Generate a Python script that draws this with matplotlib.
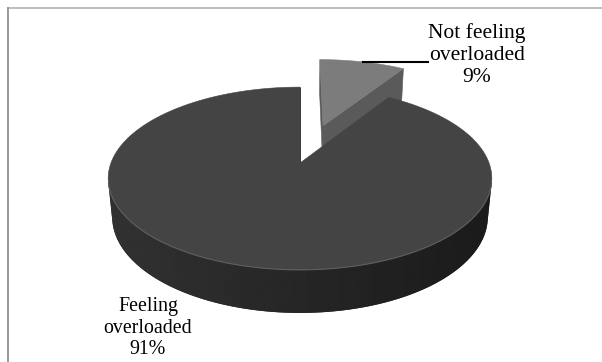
import numpy as np
import matplotlib
matplotlib.use("Agg")
import matplotlib.pyplot as plt
from matplotlib.patches import Polygon

# ---- data ----
categories = ["Not feeling\noverloaded", "Feeling\noverloaded"]
values = [9, 91]

# ---- styles ----
top_colors = ["#7c7c7c", "#444444"]
cut_colors = ["#5a5a5a", "#3a3a3a"]
explode = [0.47, 0.0]

# ---- 3D view parameters ----
ELEV = np.radians(28)
DIST = 5.21
FOCAL = 985.0
CX, CY = 300.0, 163.0
THICK = 0.233
CAM = np.array([0.0, -DIST * np.cos(ELEV), DIST * np.sin(ELEV)])


def project(X, Y, Z):
    X = np.asarray(X, float); Y = np.asarray(Y, float); Z = np.asarray(Z, float)
    depth = DIST + Y * np.cos(ELEV) - Z * np.sin(ELEV)
    sx = CX + FOCAL * X / depth
    sy = CY - FOCAL * (Y * np.sin(ELEV) + Z * np.cos(ELEV)) / depth
    return sx, sy


def visible(normal, point):
    return np.dot(normal, CAM - np.asarray(point)) > 0


fig = plt.figure(figsize=(6.02, 3.62), dpi=100)
ax = fig.add_axes([0, 0, 1, 1])
ax.set_xlim(0, 602)
ax.set_ylim(362, 0)
ax.axis("off")

# chart border (top and left visible)
ax.plot([7, 602], [7.5, 7.5], color="#bdbdbd", lw=1.4, solid_capstyle="butt")
ax.plot([7.5, 7.5], [7, 362], color="#9a9a9a", lw=1.4, solid_capstyle="butt")

total = float(sum(values))
fracs = [v / total for v in values]
starts = np.cumsum([0] + fracs[:-1]) * 2 * np.pi
ends = starts + np.array(fracs) * 2 * np.pi
mids = (starts + ends) / 2

order = sorted(range(len(values)), key=lambda i: -np.cos(mids[i]))

for i in order:
    a0, a1, am = starts[i], ends[i], mids[i]
    ox, oy = explode[i] * np.sin(am), explode[i] * np.cos(am)
    zt, zb = 0.0, -THICK

    # cut faces
    for a, sgn in ((a0, -1), (a1, 1)):
        n = np.array([sgn * np.cos(a), -sgn * np.sin(a), 0.0])
        pmid = np.array([ox + 0.5 * np.sin(a), oy + 0.5 * np.cos(a), (zt + zb) / 2])
        if visible(n, pmid):
            X = [ox, ox + np.sin(a), ox + np.sin(a), ox]
            Y = [oy, oy + np.cos(a), oy + np.cos(a), oy]
            Z = [zt, zt, zb, zb]
            sx, sy = project(X, Y, Z)
            ax.add_patch(Polygon(np.column_stack([sx, sy]), closed=True,
                                 facecolor=cut_colors[i], edgecolor=cut_colors[i],
                                 lw=0.4, zorder=2))

    # outer curved side (only the part facing the viewer), shaded with a gradient
    phis = np.linspace(a0, a1, 800)
    facing = np.array([visible(np.array([np.sin(p), np.cos(p), 0.0]),
                               [ox + np.sin(p), oy + np.cos(p), (zt + zb) / 2]) for p in phis])
    vp = phis[facing]
    if len(vp) > 1:
        tx, ty = project(ox + np.sin(vp), oy + np.cos(vp), np.full_like(vp, zt))
        bx, by = project(ox + np.sin(vp), oy + np.cos(vp), np.full_like(vp, zb))
        outline = np.column_stack([np.concatenate([tx, bx[::-1]]),
                                   np.concatenate([ty, by[::-1]])])
        side = Polygon(outline, closed=True, facecolor=(0.15, 0.15, 0.15),
                       edgecolor="none", zorder=1.9)
        ax.add_patch(side)
        x0, x1 = outline[:, 0].min() - 2, outline[:, 0].max() + 2
        y0, y1 = outline[:, 1].min() - 2, outline[:, 1].max() + 2
        gx = np.linspace(x0, x1, 400)
        rel = np.clip((gx - CX) / 189.0, -1, 1)
        L = 0.15 - 0.045 * rel
        img = np.tile(L, (2, 1))
        im = ax.imshow(img, extent=(x0, x1, y1, y0), cmap="gray", vmin=0, vmax=1,
                       aspect="auto", interpolation="bilinear", zorder=2)
        im.set_clip_path(side)
        # subtle highlight along the front top rim
        ax.plot(tx, ty, color="#5e5e5e", lw=0.8, zorder=3.5)

    # top face
    arc = np.linspace(a0, a1, 400)
    X = np.concatenate([[ox], ox + np.sin(arc)])
    Y = np.concatenate([[oy], oy + np.cos(arc)])
    sx, sy = project(X, Y, np.zeros_like(X))
    ax.add_patch(Polygon(np.column_stack([sx, sy]), closed=True,
                         facecolor=top_colors[i], edgecolor=top_colors[i],
                         lw=0.4, zorder=3))

ax.set_xlim(0, 602)
ax.set_ylim(362, 0)

# ---- labels ----
serif = ["Liberation Serif", "DejaVu Serif"]
pct = [f"{round(v / total * 100)}%" for v in values]

# small slice label with leader line
ex, ey = project(explode[0] * np.sin(mids[0]) + np.sin(mids[0]),
                 explode[0] * np.cos(mids[0]) + np.cos(mids[0]), 0.0)
lab1_x = 477
ax.plot([float(ex), 428], [float(ey), float(ey)], color="black", lw=1.5, zorder=5)
ax.text(lab1_x, 82, categories[0] + "\n" + pct[0], ha="center", va="baseline",
        family=serif, fontsize=15.5, linespacing=1.2, color="black", zorder=6)

ax.text(148, 354, categories[1] + "\n" + pct[1], ha="center", va="baseline",
        family=serif, fontsize=14.3, linespacing=1.17, color="black", zorder=6)

fig.savefig("out.png", dpi=100)
